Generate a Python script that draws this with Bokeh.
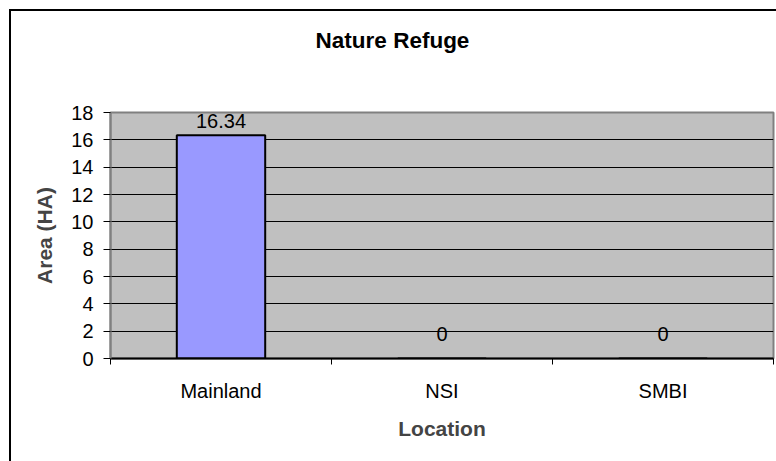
from bokeh.plotting import figure
from bokeh.models import (ColumnDataSource, Range1d, FixedTicker, Label, InlineStyleSheet)
from bokeh.embed import file_html
from bokeh.resources import INLINE
from bokeh.core.properties import value

# Chart data
title_text = "Nature Refuge"
x_title = "Location"
y_title = "Area (HA)"
categories = ["Mainland", "NSI", "SMBI"]
areas = [16.34, 0, 0]
y_ticks = [0, 2, 4, 6, 8, 10, 12, 14, 16, 18]

FONT = "Liberation Sans"

# each category occupies one unit-wide slot; bars sit at the slot centres
n = len(categories)
slot_centres = [i + 0.5 for i in range(n)]
slot_edges = list(range(n + 1))

p = figure(width=776, height=461,
           x_range=Range1d(0, n),
           y_range=Range1d(y_ticks[0], y_ticks[-1]),
           output_backend="svg", toolbar_location=None,
           min_border_left=110, min_border_right=3,
           min_border_top=112, min_border_bottom=103)

p.background_fill_color = "#C0C0C0"
p.border_fill_color = "white"
p.outline_line_color = "#808080"
p.outline_line_width = 2

# outer chart border: only its left and top edges fall inside the page
p.stylesheets = [InlineStyleSheet(css="""
:host { position: relative; }
:host::after {
  content: ""; position: absolute; left: 9px; top: 9px; right: 0; bottom: 0;
  border-left: 2px solid black; border-top: 2px solid black;
  pointer-events: none; z-index: 10;
}
""")]

# horizontal gridlines only inside the plot area
p.xgrid.visible = False
p.ygrid.ticker = FixedTicker(ticks=[t for t in y_ticks if y_ticks[0] < t < y_ticks[-1]])
p.ygrid.grid_line_color = "black"
p.ygrid.grid_line_width = 1

# y axis
ya = p.yaxis[0]
ya.ticker = FixedTicker(ticks=y_ticks)
ya.axis_line_color = "#808080"
ya.axis_line_width = 2
ya.major_tick_out = 7
ya.major_tick_in = 0
ya.major_tick_line_color = "black"
ya.minor_tick_line_color = None
ya.major_label_standoff = 10
ya.major_label_text_font = FONT
ya.major_label_text_font_size = "20px"
ya.major_label_text_color = "black"
ya.axis_label = y_title
ya.axis_label_text_font = FONT
ya.axis_label_text_font_style = "bold"
ya.axis_label_text_font_size = "21px"
ya.axis_label_standoff = 12

# category axis: names at slot centres, small ticks at slot boundaries
xa = p.xaxis[0]
xa.ticker = FixedTicker(ticks=slot_centres, minor_ticks=slot_edges)
xa.major_label_overrides = {c: name for c, name in zip(slot_centres, categories)}
xa.axis_line_color = "black"
xa.axis_line_width = 2
xa.major_tick_line_color = None
xa.major_tick_out = 0
xa.major_tick_in = 0
xa.minor_tick_out = 6
xa.minor_tick_in = 0
xa.minor_tick_line_color = "black"
xa.major_label_standoff = 15
xa.major_label_text_font = FONT
xa.major_label_text_font_size = "20px"
xa.major_label_text_color = "black"
xa.axis_label = x_title
xa.axis_label_text_font = FONT
xa.axis_label_text_font_style = "bold"
xa.axis_label_text_font_size = "21px"
xa.axis_label_standoff = 12

# bars with value labels above them
src = ColumnDataSource(dict(x=slot_centres, top=areas))
p.vbar(x="x", top="top", width=0.4, source=src,
       fill_color="#9999FF", line_color="black", line_width=2)

filled = ColumnDataSource(dict(
    x=[x for x, v in zip(slot_centres, areas) if v > 0],
    y=[v for v in areas if v > 0],
    text=[f"{v:g}" for v in areas if v > 0]))
empty = ColumnDataSource(dict(
    x=[x for x, v in zip(slot_centres, areas) if v == 0],
    y=[v for v in areas if v == 0],
    text=[f"{v:g}" for v in areas if v == 0]))
for s, dy in ((filled, -14), (empty, -25)):
    p.text(x="x", y="y", text="text", source=s, y_offset=dy,
           text_align="center", text_baseline="alphabetic",
           text_font=value(FONT), text_font_size="20px", text_color="black")

# chart title, placed in the top panel
p.add_layout(Label(x=282, y=72, x_units="screen", y_units="screen",
                   text=title_text, text_align="center", text_baseline="alphabetic",
                   text_font=FONT, text_font_style="bold", text_font_size="22.5px",
                   text_color="black"), "above")

open("out.html", "w").write(file_html(p, INLINE))
